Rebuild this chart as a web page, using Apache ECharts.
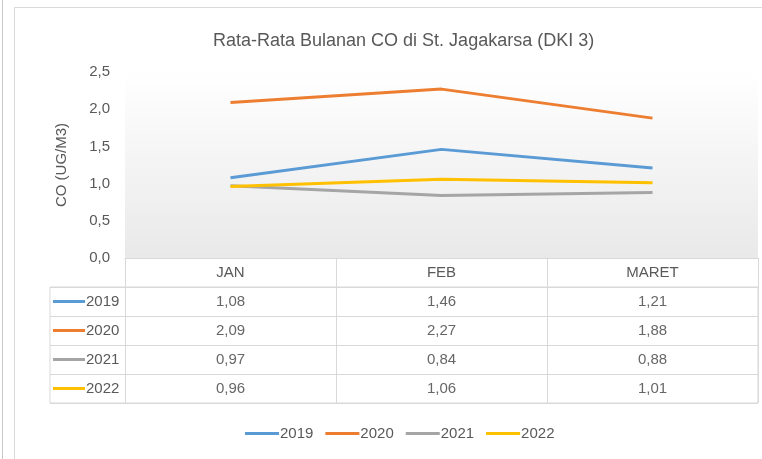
<!DOCTYPE html>
<html>
<head>
<meta charset="utf-8">
<script src="https://cdn.jsdelivr.net/npm/echarts@6/dist/echarts.min.js"></script>
<style>
  html, body { margin: 0; padding: 0; background: #fff; }
  #chart { width: 762px; height: 459px; }
</style>
</head>
<body>
<div id="chart"></div>
<script>
const months = ['JAN', 'FEB', 'MARET'];
const years = ['2019', '2020', '2021', '2022'];
const co2019 = [1.08, 1.46, 1.21];
const co2020 = [2.09, 2.27, 1.88];
const co2021 = [0.97, 0.84, 0.88];
const co2022 = [0.96, 1.06, 1.01];
const yTicks = [0, 0.5, 1.0, 1.5, 2.0, 2.5];

const colors = ['#5B9BD5', '#ED7D31', '#A5A5A5', '#FFC000'];
const rows = [co2019, co2020, co2021, co2022];
const font = '"Liberation Sans Narrow", "Liberation Sans", sans-serif';
const textColor = '#595959';
const gridColor = '#d9d9d9';

const fmt = v => v.toFixed(2).replace('.', ',');

// table cells: [month index, year index, value]
const cells = [];
rows.forEach((r, yi) => r.forEach((v, mi) => cells.push([mi, yi, v])));

const rich = { t: { fontFamily: font, fontSize: 15, color: textColor, padding: [0, 0, 0, 1] } };
years.forEach((y, i) => {
  rich['l' + y] = { width: 32, height: 3, backgroundColor: colors[i] };
});

const chart = echarts.init(document.getElementById('chart'));
const option = {
  animation: false,
  color: colors,
  textStyle: { fontFamily: font },
  title: {
    text: 'Rata-Rata Bulanan CO di St. Jagakarsa (DKI 3)',
    left: 208,
    top: 27,
    textStyle: { fontFamily: font, fontSize: 18, fontWeight: 'normal', color: textColor }
  },
  graphic: [
    { type: 'line', shape: { x1: 2.5, y1: 0, x2: 2.5, y2: 459 }, style: { stroke: '#c8c8c8', lineWidth: 1 } },
    { type: 'rect', shape: { x: 14.5, y: 7.5, width: 760, height: 460 }, style: { fill: 'none', stroke: gridColor, lineWidth: 1 } }
  ],
  legend: {
    data: years,
    left: 240,
    top: 421,
    icon: 'rect',
    itemWidth: 34,
    itemHeight: 3,
    itemGap: 12,
    textStyle: { fontFamily: font, fontSize: 15, color: textColor, padding: [0, 0, 0, -4] }
  },
  grid: [
    {
      left: 125, right: 4, top: 72, height: 186, show: true, borderWidth: 0,
      backgroundColor: new echarts.graphic.LinearGradient(0, 0, 0, 1, [
        { offset: 0, color: '#ffffff' },
        { offset: 1, color: '#e9e9e9' }
      ])
    },
    { left: 50, right: 4, top: 287, height: 116, show: true, borderColor: gridColor, borderWidth: 1 },
    { left: 125, right: 4, top: 287, height: 116 }
  ],
  xAxis: [
    {
      type: 'category', gridIndex: 0, data: months,
      axisLine: { lineStyle: { color: gridColor } },
      axisTick: { show: true, interval: 0, length: 145, lineStyle: { color: gridColor } },
      axisLabel: { margin: 7, fontSize: 15, color: textColor, fontFamily: font }
    },
    { type: 'value', gridIndex: 1, show: false },
    { type: 'category', gridIndex: 2, data: months, show: false }
  ],
  yAxis: [
    {
      type: 'value', gridIndex: 0, min: 0, max: yTicks[yTicks.length - 1], interval: 0.5,
      name: 'CO (UG/M3)', nameLocation: 'middle', nameGap: 56,
      nameTextStyle: { fontFamily: font, fontSize: 15, color: textColor },
      axisLine: { show: false }, axisTick: { show: false },
      splitLine: { show: false },
      axisLabel: { margin: 15, fontSize: 15, color: textColor, fontFamily: font, formatter: v => v.toFixed(1).replace('.', ',') }
    },
    {
      type: 'category', gridIndex: 1, data: years, inverse: true,
      axisLine: { show: false }, axisTick: { show: false },
      splitLine: { show: true, interval: 0, lineStyle: { color: gridColor } },
      axisLabel: { inside: true, margin: 3, formatter: v => '{l' + v + '|}{t|' + v + '}', rich: rich }
    },
    { type: 'category', gridIndex: 2, data: years, inverse: true, show: false }
  ],
  series: rows.map((r, i) => ({
    name: years[i],
    type: 'line',
    data: r,
    showSymbol: false,
    symbol: 'none',
    lineStyle: { width: 3, color: colors[i] },
    itemStyle: { color: colors[i] }
  })).concat([{
    name: 'table',
    type: 'scatter',
    xAxisIndex: 2,
    yAxisIndex: 2,
    data: cells,
    symbolSize: 1,
    itemStyle: { color: 'rgba(0,0,0,0)' },
    label: {
      show: true, position: 'inside',
      fontFamily: font, fontSize: 15, color: '#404040',
      formatter: p => fmt(p.value[2])
    }
  }])
};
chart.setOption(option);
</script>
</body>
</html>
